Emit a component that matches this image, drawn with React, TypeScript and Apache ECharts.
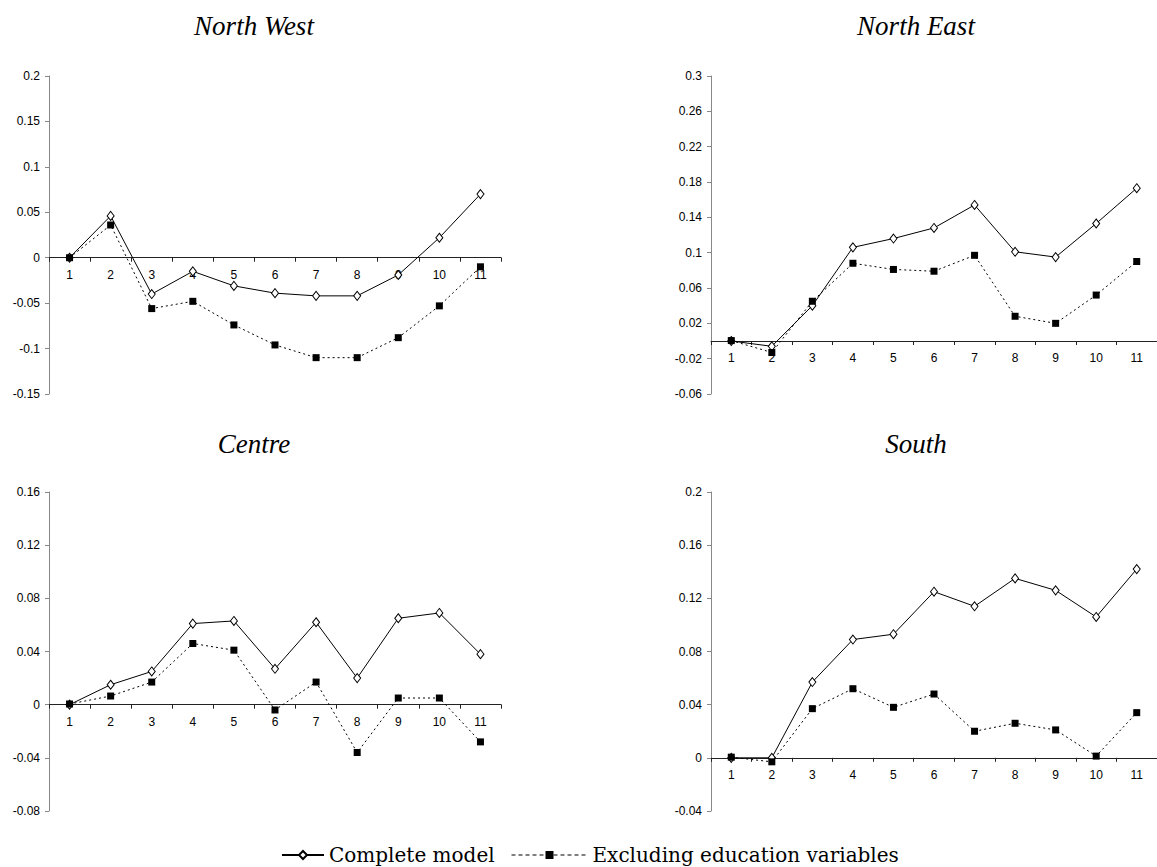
import React, { useEffect, useRef } from "react";
import * as echarts from "echarts";

const categories = ["1", "2", "3", "4", "5", "6", "7", "8", "9", "10", "11"];

const panelTitles = ["North West", "North East", "Centre", "South"];
const seriesNames = ["Complete model", "Excluding education variables"];

const nwComplete = [0, 0.046, -0.04, -0.015, -0.031, -0.039, -0.042, -0.042, -0.019, 0.022, 0.07];
const nwExcluding = [0, 0.036, -0.056, -0.048, -0.074, -0.096, -0.11, -0.11, -0.088, -0.053, -0.01];
const neComplete = [0, -0.006, 0.04, 0.106, 0.116, 0.128, 0.154, 0.101, 0.095, 0.133, 0.173];
const neExcluding = [0.0005, -0.013, 0.045, 0.088, 0.081, 0.079, 0.097, 0.028, 0.02, 0.052, 0.09];
const ceComplete = [0, 0.015, 0.025, 0.061, 0.063, 0.027, 0.062, 0.02, 0.065, 0.069, 0.038];
const ceExcluding = [0.0005, 0.0065, 0.017, 0.046, 0.041, -0.004, 0.017, -0.036, 0.005, 0.005, -0.028];
const soComplete = [0, 0, 0.057, 0.089, 0.093, 0.125, 0.114, 0.135, 0.126, 0.106, 0.142];
const soExcluding = [0.0005, -0.003, 0.037, 0.052, 0.038, 0.048, 0.02, 0.026, 0.021, 0.0013, 0.034];

const nwTicks = [-0.15, -0.1, -0.05, 0, 0.05, 0.1, 0.15, 0.2];
const neTicks = [-0.06, -0.02, 0.02, 0.06, 0.1, 0.14, 0.18, 0.22, 0.26, 0.3];
const ceTicks = [-0.08, -0.04, 0, 0.04, 0.08, 0.12, 0.16];
const soTicks = [-0.04, 0, 0.04, 0.08, 0.12, 0.16, 0.2];

const panels = [
  { complete: nwComplete, excluding: nwExcluding, ticks: nwTicks, interval: 0.05 },
  { complete: neComplete, excluding: neExcluding, ticks: neTicks, interval: 0.04 },
  { complete: ceComplete, excluding: ceExcluding, ticks: ceTicks, interval: 0.04 },
  { complete: soComplete, excluding: soExcluding, ticks: soTicks, interval: 0.04 },
];

const gridBoxes = [
  { left: 49, top: 76, width: 452, height: 318 },
  { left: 711, top: 76, width: 452, height: 318 },
  { left: 49, top: 492, width: 452, height: 319 },
  { left: 711, top: 492, width: 452, height: 319 },
];
const titlePos = [
  { x: 254, y: 26 },
  { x: 916, y: 26 },
  { x: 254, y: 444 },
  { x: 916, y: 444 },
];

const fmt = (v: number) => String(Math.round(v * 1000) / 1000);

export default function App() {
  const ref = useRef<HTMLDivElement>(null);
  useEffect(() => {
    if (!ref.current) return;
    const chart = echarts.init(ref.current, null, { renderer: "svg" });
    const labelFont = { fontFamily: "'Liberation Sans', Arial, sans-serif", fontSize: 12, color: "#000" };
    const option: any = {
      animation: false,
      backgroundColor: "#fff",
      grid: gridBoxes.map((g) => ({ ...g, containLabel: false })),
      xAxis: panels.map((p, i) => {
        const min = p.ticks[0];
        const max = p.ticks[p.ticks.length - 1];
        // move the category axis up so that it sits on the y = 0 line
        const lift = (gridBoxes[i].height * (0 - min)) / (max - min);
        return {
          type: "category",
          gridIndex: i,
          data: categories,
          boundaryGap: true,
          position: "bottom",
          offset: -lift,
          axisLine: { show: true, onZero: false, lineStyle: { color: "#222", width: 1 } },
          axisTick: { show: true, length: 4, inside: false, lineStyle: { color: "#222" } },
          axisLabel: { ...labelFont, margin: 11, interval: 0 },
          splitLine: { show: false },
        };
      }),
      yAxis: panels.map((p, i) => ({
        type: "value",
        gridIndex: i,
        min: p.ticks[0],
        max: p.ticks[p.ticks.length - 1],
        interval: p.interval,
        axisLine: { show: true, lineStyle: { color: "#888", width: 1 } },
        axisTick: { show: true, length: 4, lineStyle: { color: "#888" }, customValues: p.ticks },
        axisLabel: { ...labelFont, margin: 9, customValues: p.ticks, formatter: (v: number) => fmt(v) },
        splitLine: { show: false },
      })),
      legend: [
        {
          data: [seriesNames[0]],
          left: 276,
          top: 840,
          itemWidth: 42,
          itemHeight: 10,
          itemGap: 0,
          textStyle: { fontFamily: "'DejaVu Serif', serif", fontSize: 20, color: "#000" },
        },
        {
          data: [seriesNames[1]],
          left: 506,
          top: 840,
          itemWidth: 76,
          itemHeight: 10,
          itemGap: 0,
          lineStyle: { type: [4, 3], width: 1 },
          textStyle: { fontFamily: "'DejaVu Serif', serif", fontSize: 20, color: "#000" },
        },
      ],
      graphic: panelTitles.map((t, i) => ({
        type: "text",
        x: titlePos[i].x,
        y: titlePos[i].y,
        style: {
          text: t,
          align: "center",
          verticalAlign: "middle",
          font: "italic 27px 'Liberation Serif', 'Times New Roman', serif",
          fill: "#000",
        },
      })),
      series: panels.flatMap((p, i) => [
        {
          name: seriesNames[0],
          type: "line",
          xAxisIndex: i,
          yAxisIndex: i,
          data: p.complete,
          symbol: "diamond",
          symbolSize: [7, 9],
          itemStyle: { color: "#fff", borderColor: "#000", borderWidth: 1 },
          lineStyle: { color: "#000", width: 1, type: "solid" },
          z: 2,
        },
        {
          name: seriesNames[1],
          type: "line",
          xAxisIndex: i,
          yAxisIndex: i,
          data: p.excluding,
          symbol: "rect",
          symbolSize: 7,
          itemStyle: { color: "#000", borderColor: "#000", borderWidth: 0 },
          lineStyle: { color: "#000", width: 1, type: [2, 3] },
          z: 3,
        },
      ]),
    };
    chart.setOption(option);
    return () => chart.dispose();
  }, []);
  return (
    <div
      ref={ref}
      style={{ position: "absolute", left: 0, top: 0, width: 1157, height: 867 }}
    />
  );
}
